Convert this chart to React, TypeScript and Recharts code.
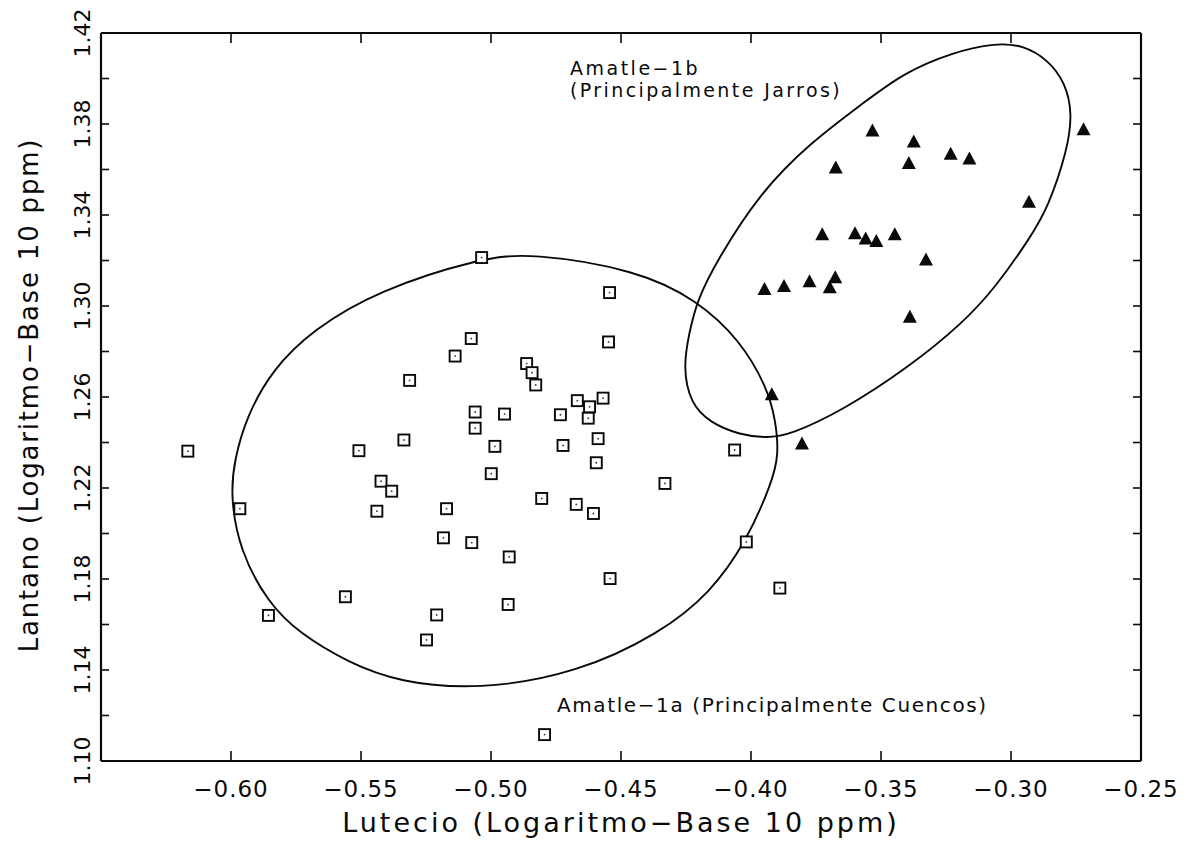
// Amatle 1a / 1b: La vs Lu (log10 ppm), scatter with confidence ellipses.
import { ComposedChart, Line, Scatter, XAxis, YAxis } from "recharts";

const FONT = "'DejaVu Sans', sans-serif";
const INK = "#0a0a0a";

// Amatle-1a (cuencos) – squares
const grupo1a = [
  { x: -0.6166, y: 1.2362 }, { x: -0.5966, y: 1.2109 }, { x: -0.5856, y: 1.164 },
  { x: -0.556, y: 1.1722 }, { x: -0.5508, y: 1.2364 }, { x: -0.5439, y: 1.2098 },
  { x: -0.5423, y: 1.223 }, { x: -0.5382, y: 1.2186 }, { x: -0.5335, y: 1.2411 },
  { x: -0.5313, y: 1.2673 }, { x: -0.5248, y: 1.1532 }, { x: -0.5209, y: 1.1642 },
  { x: -0.5183, y: 1.1981 }, { x: -0.5171, y: 1.2109 }, { x: -0.5138, y: 1.278 },
  { x: -0.5076, y: 1.2857 }, { x: -0.5061, y: 1.2534 }, { x: -0.5061, y: 1.2463 },
  { x: -0.5074, y: 1.196 }, { x: -0.5036, y: 1.3213 }, { x: -0.4999, y: 1.2263 },
  { x: -0.4985, y: 1.2383 }, { x: -0.4948, y: 1.2525 }, { x: -0.493, y: 1.1897 },
  { x: -0.4934, y: 1.1688 }, { x: -0.4863, y: 1.2747 }, { x: -0.4842, y: 1.2707 },
  { x: -0.4828, y: 1.2653 }, { x: -0.4805, y: 1.2154 }, { x: -0.4794, y: 1.1116 },
  { x: -0.4733, y: 1.2522 }, { x: -0.4723, y: 1.2387 }, { x: -0.4672, y: 1.2128 },
  { x: -0.4668, y: 1.2584 }, { x: -0.4626, y: 1.2507 }, { x: -0.4621, y: 1.2557 },
  { x: -0.4606, y: 1.2088 }, { x: -0.4595, y: 1.2311 }, { x: -0.4588, y: 1.2417 },
  { x: -0.4569, y: 1.2595 }, { x: -0.4548, y: 1.2842 }, { x: -0.4544, y: 1.3059 },
  { x: -0.4542, y: 1.1802 }, { x: -0.4331, y: 1.222 }, { x: -0.4063, y: 1.2367 },
  { x: -0.4018, y: 1.1963 }, { x: -0.3889, y: 1.176 },
];

// Amatle-1b (jarros) – triangles
const grupo1b = [
  { x: -0.3533, y: 1.3769 }, { x: -0.3374, y: 1.3721 }, { x: -0.3674, y: 1.3607 },
  { x: -0.3393, y: 1.3626 }, { x: -0.3232, y: 1.3667 }, { x: -0.316, y: 1.3646 },
  { x: -0.2721, y: 1.3775 }, { x: -0.2931, y: 1.3456 }, { x: -0.3726, y: 1.3313 },
  { x: -0.36, y: 1.3318 }, { x: -0.3559, y: 1.3294 }, { x: -0.3518, y: 1.3283 },
  { x: -0.3447, y: 1.3313 }, { x: -0.3327, y: 1.3202 }, { x: -0.3948, y: 1.3073 },
  { x: -0.3873, y: 1.3086 }, { x: -0.3775, y: 1.3107 }, { x: -0.3676, y: 1.3124 },
  { x: -0.3697, y: 1.308 }, { x: -0.3389, y: 1.2951 }, { x: -0.392, y: 1.261 },
  { x: -0.3804, y: 1.2393 },
];

// ellipse outlines, points read around the curves
const elipse1a = [
  { x: -0.4846, y: 1.3233 }, { x: -0.4437, y: 1.3158 }, { x: -0.4207, y: 1.3026 },
  { x: -0.4042, y: 1.285 }, { x: -0.3939, y: 1.2644 }, { x: -0.3905, y: 1.2499 },
  { x: -0.3893, y: 1.2345 }, { x: -0.392, y: 1.2222 }, { x: -0.4019, y: 1.1962 },
  { x: -0.4157, y: 1.1738 }, { x: -0.4349, y: 1.1562 }, { x: -0.4666, y: 1.1387 },
  { x: -0.5049, y: 1.1312 }, { x: -0.5355, y: 1.1347 }, { x: -0.5547, y: 1.1431 },
  { x: -0.5738, y: 1.1562 }, { x: -0.5857, y: 1.1694 }, { x: -0.5968, y: 1.1927 },
  { x: -0.6002, y: 1.2169 }, { x: -0.5987, y: 1.2323 }, { x: -0.5941, y: 1.2512 },
  { x: -0.5842, y: 1.2719 }, { x: -0.5688, y: 1.2894 }, { x: -0.5432, y: 1.307 },
  { x: -0.5038, y: 1.3211 },
];

const elipse1b = [
  { x: -0.3059, y: 1.4156 }, { x: -0.2955, y: 1.4147 }, { x: -0.2856, y: 1.4081 },
  { x: -0.2791, y: 1.398 }, { x: -0.2764, y: 1.3848 }, { x: -0.2783, y: 1.3686 },
  { x: -0.2856, y: 1.3435 }, { x: -0.2932, y: 1.329 }, { x: -0.3059, y: 1.3083 },
  { x: -0.3185, y: 1.2925 }, { x: -0.3392, y: 1.2732 }, { x: -0.3644, y: 1.2543 },
  { x: -0.3851, y: 1.2433 }, { x: -0.3939, y: 1.242 }, { x: -0.4042, y: 1.2433 },
  { x: -0.4157, y: 1.2486 }, { x: -0.4234, y: 1.2573 }, { x: -0.4261, y: 1.2732 },
  { x: -0.4238, y: 1.2881 }, { x: -0.4207, y: 1.3026 }, { x: -0.413, y: 1.3202 },
  { x: -0.3966, y: 1.3497 }, { x: -0.3774, y: 1.3716 }, { x: -0.3568, y: 1.3892 },
  { x: -0.3415, y: 1.4024 }, { x: -0.3223, y: 1.4116 },
];

const xTicks = [-0.6, -0.55, -0.5, -0.45, -0.4, -0.35, -0.3, -0.25];
const yTicks = [1.1, 1.12, 1.14, 1.16, 1.18, 1.2, 1.22, 1.24, 1.26, 1.28, 1.3, 1.32, 1.34, 1.36, 1.38, 1.4, 1.42];
const yLabelled = [1.1, 1.14, 1.18, 1.22, 1.26, 1.3, 1.34, 1.38, 1.42];

const fmtX = (v: number) => (v < 0 ? "\u2212" : "") + Math.abs(v).toFixed(2);

// ticks point inwards; the tick component draws both the mark and the label
const BottomTick = ({ x, y, payload }: any) => (
  <g>
    <line x1={x} y1={y} x2={x} y2={y - 10} stroke={INK} strokeWidth={1.6} />
    <text x={x} y={y + 36} textAnchor="middle" fontFamily={FONT} fontSize={23} letterSpacing={1} fill={INK}>
      {fmtX(payload.value)}
    </text>
  </g>
);

const TopTick = ({ x, y }: any) => (
  <line x1={x} y1={y} x2={x} y2={y + 10} stroke={INK} strokeWidth={1.6} />
);

const LeftTick = ({ x, y, payload }: any) => {
  const labelled = yLabelled.some((v) => Math.abs(v - payload.value) < 1e-6);
  const bx = x - 11;
  return (
    <g>
      <line x1={x} y1={y} x2={x + 8} y2={y} stroke={INK} strokeWidth={1.6} />
      {labelled && (
        <text x={bx} y={y} transform={`rotate(-90 ${bx} ${y})`} textAnchor="middle"
              fontFamily={FONT} fontSize={22} fill={INK}>
          {payload.value.toFixed(2)}
        </text>
      )}
    </g>
  );
};

const RightTick = ({ x, y }: any) => (
  <line x1={x} y1={y} x2={x - 8} y2={y} stroke={INK} strokeWidth={1.6} />
);

const Square = ({ cx, cy }: any) => (
  <g>
    <rect x={cx - 5.5} y={cy - 5.5} width={11} height={11} fill="#fff" stroke={INK} strokeWidth={1.9} />
    <circle cx={cx} cy={cy} r={0.9} fill="#333" />
  </g>
);

const Triangle = ({ cx, cy }: any) => (
  <path d={`M${cx},${cy - 7.5} L${cx + 7},${cy + 5.5} L${cx - 7},${cy + 5.5} Z`} fill={INK} />
);

export default function App() {
  const axisLine = { stroke: INK, strokeWidth: 2.2 };
  return (
    <div style={{ position: "absolute", left: 0, top: 0, background: "#fff" }}>
      <ComposedChart width={1192} height={852} margin={{ top: 32, right: 50, bottom: 90, left: 100 }}>
        <XAxis xAxisId="b" orientation="bottom" type="number" dataKey="x" domain={[-0.65, -0.25]}
               allowDataOverflow ticks={xTicks} interval={0} height={1} tickSize={0} tickMargin={0}
               axisLine={axisLine} tickLine={false} tick={<BottomTick />} />
        <XAxis xAxisId="t" orientation="top" type="number" dataKey="x" domain={[-0.65, -0.25]}
               allowDataOverflow ticks={xTicks} interval={0} height={1} tickSize={0} tickMargin={0}
               axisLine={axisLine} tickLine={false} tick={<TopTick />} />
        <YAxis yAxisId="l" orientation="left" type="number" dataKey="y" domain={[1.1, 1.42]}
               allowDataOverflow ticks={yTicks} interval={0} width={1} tickSize={0} tickMargin={0}
               axisLine={axisLine} tickLine={false} tick={<LeftTick />} />
        <YAxis yAxisId="r" orientation="right" type="number" dataKey="y" domain={[1.1, 1.42]}
               allowDataOverflow ticks={yTicks} interval={0} width={1} tickSize={0} tickMargin={0}
               axisLine={axisLine} tickLine={false} tick={<RightTick />} />

        <Line xAxisId="t" yAxisId="r" data={elipse1a} dataKey="y" type="basisClosed" stroke={INK}
              strokeWidth={1.9} dot={false} activeDot={false} isAnimationActive={false} />
        <Line xAxisId="t" yAxisId="r" data={elipse1b} dataKey="y" type="basisClosed" stroke={INK}
              strokeWidth={1.9} dot={false} activeDot={false} isAnimationActive={false} />

        <Scatter xAxisId="b" yAxisId="l" data={grupo1a} shape={<Square />} isAnimationActive={false} />
        <Scatter xAxisId="b" yAxisId="l" data={grupo1b} shape={<Triangle />} isAnimationActive={false} />

        <text x={570} y={75} fontFamily={FONT} fontSize={19} letterSpacing={2.5} fill={INK}>Amatle{"\u2212"}1b</text>
        <text x={570} y={97} fontFamily={FONT} fontSize={19} letterSpacing={2.4} fill={INK}>(Principalmente Jarros)</text>
        <text x={557} y={712} fontFamily={FONT} fontSize={20} letterSpacing={1.6} fill={INK}>
          Amatle{"\u2212"}1a (Principalmente Cuencos)
        </text>

        <text x={621} y={832} textAnchor="middle" fontFamily={FONT} fontSize={27} letterSpacing={3} fill={INK}>
          Lutecio (Logaritmo{"\u2212"}Base 10 ppm)
        </text>
        <text x={38} y={395} transform="rotate(-90 38 395)" textAnchor="middle" fontFamily={FONT}
              fontSize={26} letterSpacing={1.8} fill={INK}>
          Lantano (Logaritmo{"\u2212"}Base 10 ppm)
        </text>
      </ComposedChart>
    </div>
  );
}
